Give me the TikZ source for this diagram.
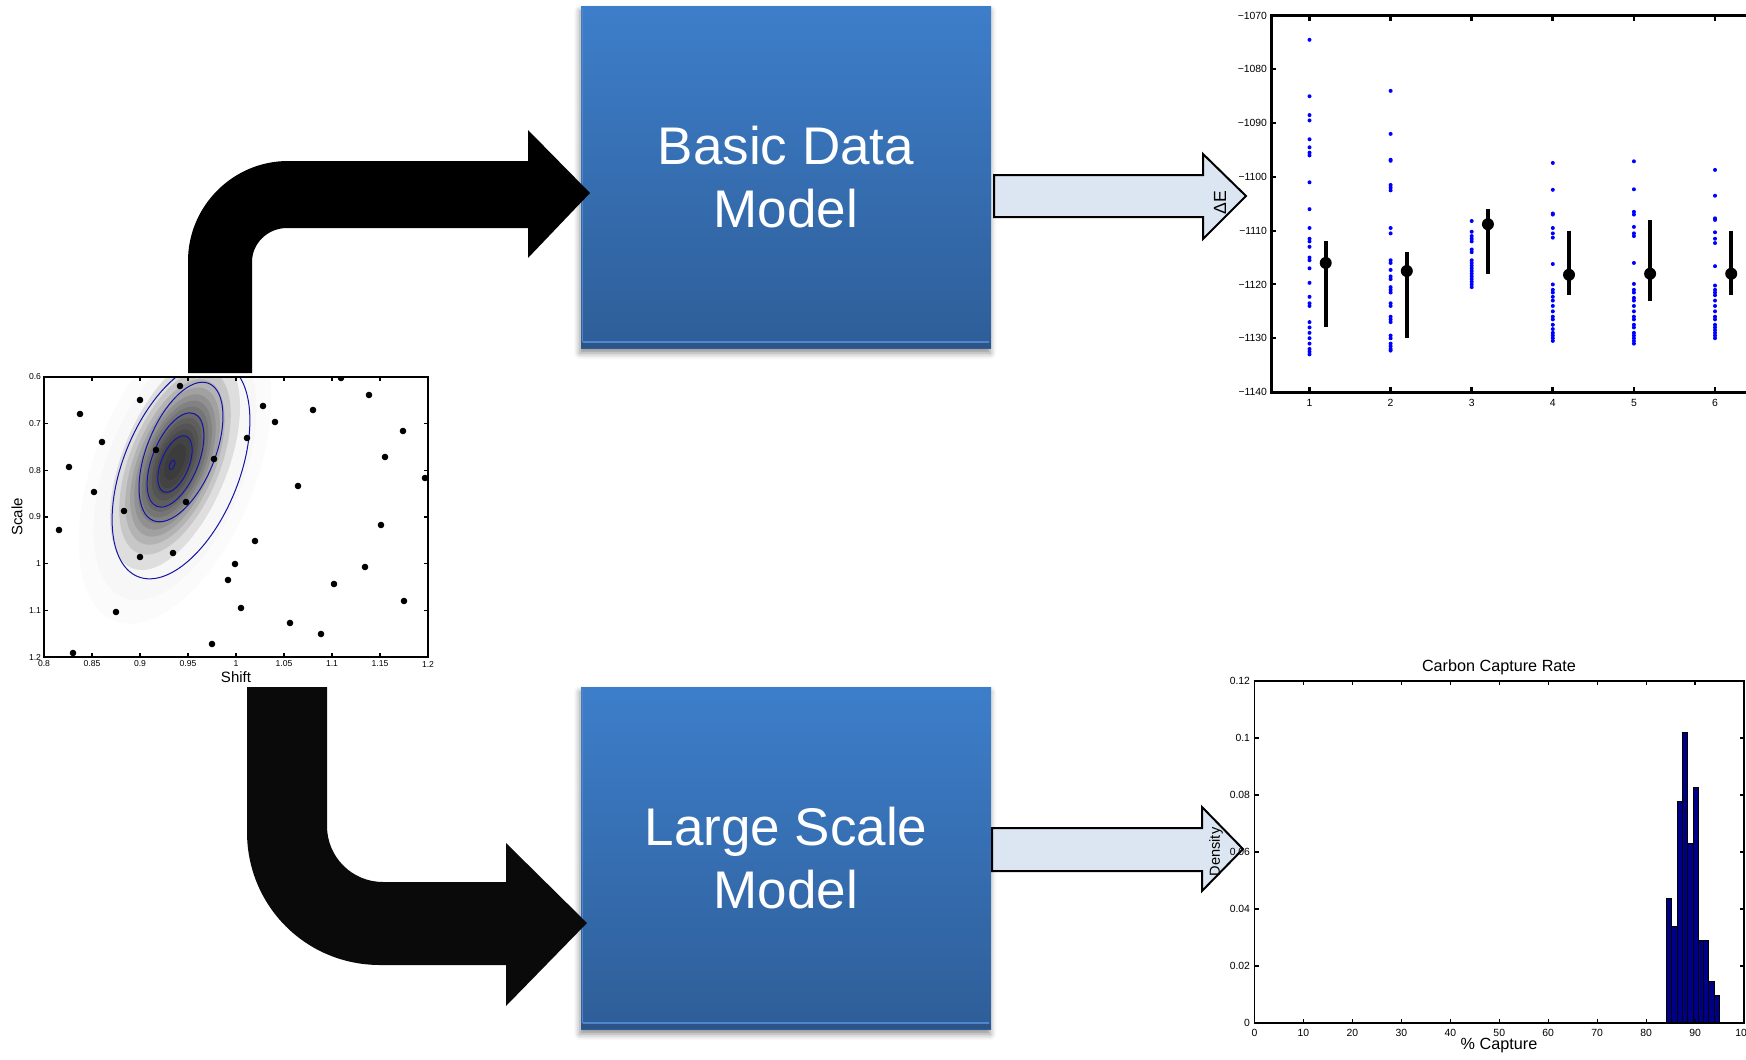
\documentclass[tikz,border=0pt]{standalone}
\usepackage{fontspec}
\setmainfont{Liberation Sans}
\usetikzlibrary{calc,shadows.blur}

\definecolor{boxtop}{RGB}{61,126,202}
\definecolor{boxbot}{RGB}{46,94,152}
\definecolor{boxedge}{RGB}{80,134,204}
\definecolor{boxband}{RGB}{44,84,136}
\definecolor{flowfill}{RGB}{220,230,242}
\definecolor{contourblue}{RGB}{20,20,165}
\definecolor{barfill}{RGB}{0,0,135}
\definecolor{turnblack}{RGB}{10,10,10}

\begin{document}
\begin{tikzpicture}[x=0.5pt, y=-0.5pt,
  every node/.style={inner sep=0pt, outer sep=0pt},
  modelbox/.style={rectangle, minimum width=205pt, minimum height=171pt,
    top color=boxtop, bottom color=boxbot, text=white, align=center,
    font=\fontsize{26.5}{31.5}\selectfont,
    blur shadow={shadow xshift=-0.5pt, shadow yshift=-2.5pt,
      shadow blur radius=3pt, shadow opacity=45}},
  turnarrow/.style={fill=black},
  flowarrow/.style={draw=black, line width=1pt, fill=flowfill, line join=miter},
  smalllab/.style={font=\fontsize{4.3}{5}\selectfont},
  ticklab/.style={font=\fontsize{5.2}{6}\selectfont},
  axlab/.style={font=\fontsize{7.5}{9}\selectfont},
  plotlab/.style={font=\fontsize{8.1}{10}\selectfont},
  axtick/.style={line width=0.8pt},
  bar/.style={fill=barfill, draw=black, line width=0.5pt}
]
\useasboundingbox (0,0) rectangle (1746,1060);
\clip (0,0) rectangle (1746,1060);

% ---------------- posterior scatter: Scale vs Shift ----------------
\begin{scope}
  \clip (44,377) rectangle (428,657);
  % faint halo of the density image
  \foreach \s in {1.3,1.1}{
    \fill[black, opacity=0.015, rotate around={68:(175,470)}]
      (175,470) ellipse [x radius=125*\s, y radius=62*\s];
  }
  % density image
  \foreach \k in {1,...,13}{
    \pgfmathsetmacro\f{sqrt(-2*ln(\k/14))}
    \pgfmathsetmacro\ra{50*\f}
    \pgfmathsetmacro\rb{23*\f}
    \fill[black, opacity=0.1, rotate around={68:(175,462)}]
      (175,462) ellipse [x radius=\ra, y radius=\rb];
  }
  % contour lines
  \foreach \cx/\cy/\a/\b in {181/470/115/58, 181/452/74/34, 175.5/460/50/23,
                            175/464/30/14, 172/465/5/2.5}{
    \draw[contourblue, line width=0.5pt, rotate around={68:(\cx,\cy)}]
      (\cx,\cy) ellipse [x radius=\a, y radius=\b];
  }
  % sample points
  \foreach \px/\py in {180/386, 140/400, 80/414, 102/442, 69/467, 94/492, 59/530,
      124/511, 156/450, 214/459, 186/502, 140/557, 173/553, 341/378, 369/395,
      263/406, 313/410, 275/422, 403/431, 247/438, 385/457, 425/478, 298/486,
      381/525, 255/541, 235/564, 365/567, 228/580, 334/584, 404/601, 241/608,
      116/612, 290/623, 321/634, 212/644, 73/653}{
    \fill (\px,\py) circle [radius=3.3];
  }
\end{scope}
\draw[line width=1pt] (44,377) rectangle (428,657);
\foreach \k in {0,...,8}{
  \draw[axtick, line width=0.6pt] ({44+48*\k},657) -- ++(0,-4);
  \draw[axtick, line width=0.6pt] ({44+48*\k},377) -- ++(0,4);
}
\foreach \k in {0,...,6}{
  \draw[axtick, line width=0.6pt] (44,{377+46.67*\k}) -- ++(4,0);
  \draw[axtick, line width=0.6pt] (428,{377+46.67*\k}) -- ++(-4,0);
}
\foreach \t [count=\k from 0] in {0.8,0.85,0.9,0.95,1,1.05,1.1,1.15,1.2}{
  \node[smalllab] (sx\k) at ({44+48*\k},664) {\t};
}
\foreach \t [count=\k from 0] in {0.6,0.7,0.8,0.9,1,1.1,1.2}{
  \node[smalllab, anchor=east] (sy\k) at (41,{377+46.67*\k}) {\t};
}
\node[axlab] (shiftlab) at (236,677) {Shift};
\node[axlab, rotate=90] (scalelab) at (17,517) {Scale};

% ---------------- model boxes ----------------
\node[modelbox] (basic) at (786,177) {Basic Data\\Model};
\node[modelbox] (large) at (786,858) {Large Scale\\Model};
\foreach \bx in {basic,large}{
  \fill[boxband] ($(\bx.south west)+(0,-5)$) rectangle (\bx.south east);
  \draw[boxedge, line width=0.8pt] ($(\bx.south west)+(2,-6)$) -- ($(\bx.south east)+(-2,-6)$);
  \draw[boxedge, line width=0.5pt] ($(\bx.north west)+(1.5,2)$) -- ($(\bx.south west)+(1.5,-6)$);
}

% ---------------- bent arrows from the posterior ----------------
\coordinate (toptip) at (590,193);
\fill[turnarrow] (188,373) -- (188,261)
  .. controls (188,206) and (233,161) .. (288,161)
  -- (528,161) -- (528,130) -- (toptip) -- (528,258) -- (528,228) -- (287,228)
  .. controls (268,228) and (252,243) .. (252,262)
  -- (252,373) -- cycle;

\coordinate (bottip) at (587,923);
\fill[turnblack] (247,687) -- (327,687) -- (327,826)
  .. controls (327,857) and (352,882) .. (383,882)
  -- (506,882) -- (506,843) -- (bottip) -- (506,1006) -- (506,965) -- (380,965)
  .. controls (306,965) and (247,906) .. (247,832) -- cycle;

% ---------------- output arrows ----------------
\coordinate (detip) at (1246,196);
\draw[flowarrow] (994,175) -- (1203,175) -- (1203,154) -- (detip)
  -- (1203,239) -- (1203,217) -- (994,217) -- cycle;
\coordinate (densitytip) at (1243,849);
\draw[flowarrow] (992,828) -- (1202,828) -- (1202,807) -- (densitytip)
  -- (1202,891) -- (1202,871) -- (992,871) -- cycle;

% ---------------- energy differences per case ----------------
\foreach \g/\vals in {
  0/{4.5,15,18.5,19.5,23,24.5,25.5,26,31,36,39.5,41.5,42,43,45,45.5,47,49.7,52.3,53.5,54,57,58,59,60,61,62,62.5,63},
  1/{14,22,26.8,27,31.5,32,32.5,39.5,40.5,45.5,46,47.3,48.5,49,50.5,51,51.5,53.5,54,56,56.5,57,59.5,60,61,61.5,62,62.3},
  2/{38.2,40.2,41,41.5,42,43.5,44,45.5,46,46.5,47,47.5,48,48.5,49,49.5,50,50.5},
  3/{27.4,32.4,36.8,37,39.5,40.5,41.3,46.2,50,51,51.5,52.3,53,54,55,56,56.5,57.5,58.3,59,59.5,60,60.5},
  4/{27.1,32.3,36.5,37,39.3,40.5,41,46,49.9,51,51.5,52.5,53,54,55,56,56.5,57.5,58,59,59.5,60,60.5,61},
  5/{28.7,33.5,37.7,38,40.3,41.5,42.3,46.6,50.2,51,51.5,52,53,54,55,56,56.5,57.5,58,58.5,59,59.5,60}}{
  \foreach \d in \vals{
    \fill[blue] ({1309.5+\g*81.1},{15.6+\d*5.377}) circle [radius=2];
  }
}
\foreach \g/\m/\lo/\hi in {0/46/42/58, 1/47.5/44/60, 2/38.8/36/48,
                           3/48.2/40/52, 4/48/38/53, 5/48/40/52}{
  \draw[line width=1.85pt] ({1325.7+\g*81.1},{15.6+\lo*5.377}) -- ({1325.7+\g*81.1},{15.6+\hi*5.377});
  \fill ({1325.7+\g*81.1},{15.6+\m*5.377}) circle [radius=6];
}
\draw[line width=1.5pt] (1760,15.6) -- (1271,15.6) -- (1271,392) -- (1760,392);
\foreach \j in {0,...,7}{
  \draw[axtick, line width=1pt] (1271,{15.6+\j*53.77}) -- ++(5,0);
  \pgfmathtruncatemacro\lab{1070+10*\j}
  \node[ticklab, anchor=east] (ey\j) at (1267,{15.6+\j*53.77}) {−\lab};
}
\foreach \i in {0,...,5}{
  \draw[axtick, line width=1.4pt] ({1309.5+\i*81.1},392) -- ++(0,-5);
  \draw[axtick, line width=1.4pt] ({1309.5+\i*81.1},15.6) -- ++(0,5);
  \pgfmathtruncatemacro\lab{\i+1}
  \node[ticklab] (ex\i) at ({1309.5+\i*81.1},403) {\lab};
}
\node[plotlab, rotate=90, font=\fontsize{8.8}{10}\selectfont] (delabel) at (1220,203) {ΔE};

% ---------------- carbon capture histogram ----------------
\foreach \k/\h in {0/0.0437, 1/0.034, 2/0.0776, 3/0.1018, 4/0.0631,
                   5/0.0825, 6/0.0291, 7/0.0291, 8/0.0146, 9/0.0097}{
  \filldraw[bar] ({1254.5+(84.2+\k*1.08)*4.895},1023)
    rectangle ({1254.5+(84.2+(\k+1)*1.08)*4.895},{1023-\h*2850});
}
\draw[line width=0.9pt] (1254.5,681) rectangle (1744,1023);
\foreach \k in {0,...,10}{
  \draw[axtick, line width=0.6pt] ({1254.5+48.95*\k},1023) -- ++(0,-4);
  \draw[axtick, line width=0.6pt] ({1254.5+48.95*\k},681) -- ++(0,4);
  \pgfmathtruncatemacro\lab{10*\k}
  \node[ticklab] (hx\k) at ({1254.5+48.95*\k},1033) {\lab};
}
\foreach \t [count=\k from 0] in {0,0.02,0.04,0.06,0.08,0.1,0.12}{
  \draw[axtick, line width=0.6pt] (1254.5,{1023-57*\k}) -- ++(4,0);
  \draw[axtick, line width=0.6pt] (1744,{1023-57*\k}) -- ++(-4,0);
  \node[ticklab, anchor=east] (hy\k) at (1250,{1023-57*\k}) {\t};
}
\node[plotlab] (htitle) at (1499,667) {Carbon Capture Rate};
\node[plotlab] (hxlabel) at (1499,1046) {\% Capture};
\node[plotlab, rotate=90, font=\fontsize{7.3}{9}\selectfont] (denslabel) at (1216,852) {Density};
\end{tikzpicture}
\end{document}
